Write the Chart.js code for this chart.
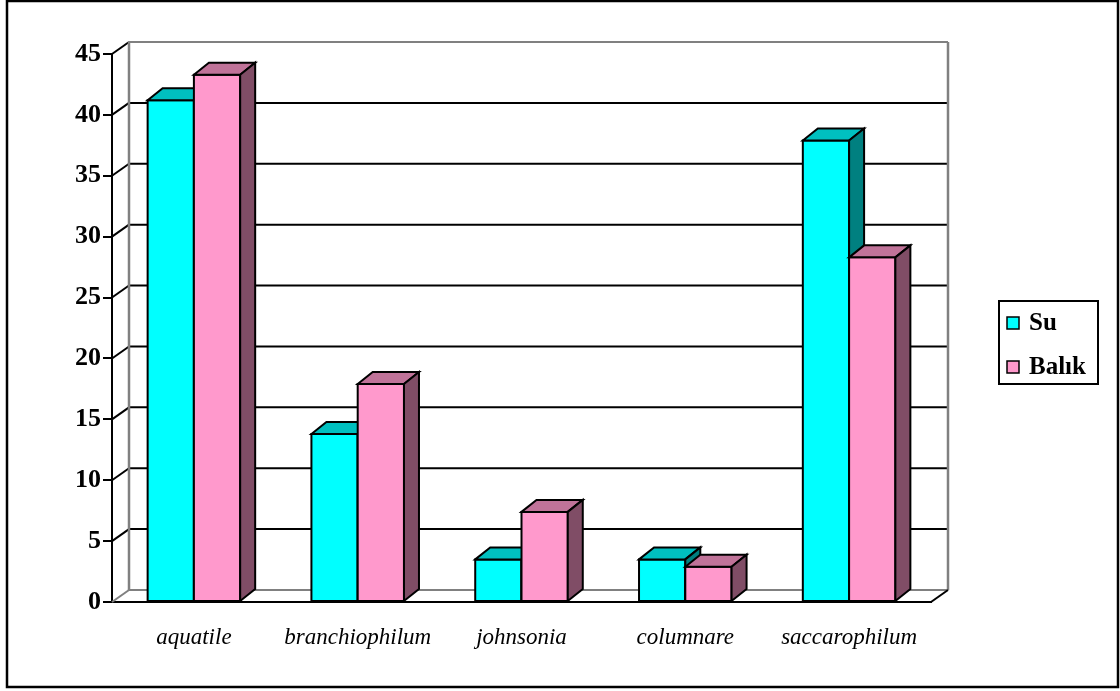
<!DOCTYPE html>
<html>
<head>
<meta charset="utf-8">
<script src="https://cdn.jsdelivr.net/npm/chart.js@4.4.1/dist/chart.umd.min.js"></script>
<style>
  html, body { margin: 0; padding: 0; background: #fff; }
  #wrap { width: 1120px; height: 691px; }
</style>
</head>
<body>
<div id="wrap"><canvas id="bakteriChart"></canvas></div>
<script>
const categories = ['aquatile', 'branchiophilum', 'johnsonia', 'columnare', 'saccarophilum'];
const seriesNames = ['Su', 'Balık'];
const suValues = [41.2, 13.8, 3.5, 3.5, 37.9];
const balikValues = [43.3, 17.9, 7.4, 2.9, 28.3];
const yMin = 0, yMax = 45, yStep = 5;

// depth of the back wall and of each bar (pixels, right / up)
const WALL_DX = 17, WALL_DY = -12;
const BAR_DX = 15, BAR_DY = -12;

const faces = [
    { front: '#00FFFF', top: '#00C0C0', side: '#008080' },
    { front: '#FF99CC', top: '#C07399', side: '#804D66' }
];

// walls, gridlines and the 3d boxes, drawn in back-to-front order
const box3d = {
    id: 'box3d',
    beforeDatasetsDraw(chart) {
        const { ctx, chartArea: a, scales: { y } } = chart;
        ctx.save();
        ctx.lineWidth = 2;
        ctx.lineCap = 'butt';

        y.ticks.forEach(t => {
            const py = y.getPixelForValue(t.value);
            // left wall diagonal
            ctx.strokeStyle = t.value === yMin ? '#808080' : '#000';
            ctx.beginPath();
            ctx.moveTo(a.left, py);
            ctx.lineTo(a.left + WALL_DX, py + WALL_DY);
            ctx.stroke();
            // back wall line
            ctx.strokeStyle = (t.value === yMin || t.value === yMax) ? '#808080' : '#000';
            ctx.beginPath();
            ctx.moveTo(a.left + WALL_DX, py + WALL_DY);
            ctx.lineTo(a.right + WALL_DX, py + WALL_DY);
            ctx.stroke();
        });

        // back wall verticals
        ctx.strokeStyle = '#808080';
        ctx.lineWidth = 2.5;
        [a.left + WALL_DX, a.right + WALL_DX].forEach(px => {
            ctx.beginPath();
            ctx.moveTo(px, a.top + WALL_DY);
            ctx.lineTo(px, a.bottom + WALL_DY);
            ctx.stroke();
        });

        // floor right edge
        ctx.strokeStyle = '#000';
        ctx.lineWidth = 2;
        ctx.beginPath();
        ctx.moveTo(a.right, a.bottom);
        ctx.lineTo(a.right + WALL_DX, a.bottom + WALL_DY);
        ctx.stroke();

        const metas = chart.data.datasets.map((ds, i) => chart.getDatasetMeta(i));
        ctx.lineJoin = 'miter';
        ctx.strokeStyle = '#000';
        ctx.lineWidth = 2;
        categories.forEach((c, i) => {
            metas.forEach((meta, d) => {
                const el = meta.data[i];
                const p = el.getProps(['x', 'y', 'base', 'width'], true);
                const l = p.x - p.width / 2, r = p.x + p.width / 2;
                const top = p.y, bot = p.base;
                const f = faces[d];

                ctx.fillStyle = f.front;
                ctx.beginPath();
                ctx.rect(l, top, r - l, bot - top);
                ctx.fill();
                ctx.stroke();

                ctx.fillStyle = f.top;
                ctx.beginPath();
                ctx.moveTo(l, top);
                ctx.lineTo(l + BAR_DX, top + BAR_DY);
                ctx.lineTo(r + BAR_DX, top + BAR_DY);
                ctx.lineTo(r, top);
                ctx.closePath();
                ctx.fill();
                ctx.stroke();

                ctx.fillStyle = f.side;
                ctx.beginPath();
                ctx.moveTo(r, top);
                ctx.lineTo(r + BAR_DX, top + BAR_DY);
                ctx.lineTo(r + BAR_DX, bot + BAR_DY);
                ctx.lineTo(r, bot);
                ctx.closePath();
                ctx.fill();
                ctx.stroke();
            });
        });
        ctx.restore();
        return false;
    }
};

// boxed legend on the right and the outer frame
const frameAndLegend = {
    id: 'frameAndLegend',
    afterDraw(chart) {
        const ctx = chart.ctx;
        ctx.save();
        ctx.strokeStyle = '#000';
        ctx.lineWidth = 2.5;
        ctx.strokeRect(7, 1, 1111, 686);

        ctx.lineWidth = 2;
        ctx.strokeRect(999, 301, 99, 83);

        ctx.font = 'bold 25px "Liberation Serif"';
        ctx.textBaseline = 'middle';
        ctx.textAlign = 'left';
        chart.data.datasets.forEach((ds, i) => {
            const cy = 323 + i * 44;
            ctx.fillStyle = ds.backgroundColor;
            ctx.fillRect(1007, cy - 6, 12, 12);
            ctx.lineWidth = 1.5;
            ctx.strokeRect(1007, cy - 6, 12, 12);
            ctx.fillStyle = '#000';
            ctx.fillText(ds.label, 1029, cy + 1);
        });
        ctx.restore();
    }
};

new Chart(document.getElementById('bakteriChart'), {
    type: 'bar',
    data: {
        labels: categories,
        datasets: [
            { label: seriesNames[0], data: suValues, backgroundColor: faces[0].front },
            { label: seriesNames[1], data: balikValues, backgroundColor: faces[1].front }
        ]
    },
    options: {
        responsive: true,
        maintainAspectRatio: false,
        animation: false,
        layout: { padding: { left: 0, top: 54, right: 189, bottom: 0 } },
        plugins: {
            legend: { display: false },
            tooltip: { enabled: false }
        },
        datasets: {
            bar: { categoryPercentage: 0.565, barPercentage: 1.0 }
        },
        scales: {
            x: {
                grid: { display: false },
                border: { display: true, color: '#000', width: 2 },
                ticks: {
                    color: '#000',
                    padding: 14,
                    maxRotation: 0,
                    font: { family: 'Liberation Serif', size: 23, style: 'italic' }
                },
                afterFit(scale) { scale.height = 89; }
            },
            y: {
                min: yMin,
                max: yMax,
                ticks: {
                    stepSize: yStep,
                    color: '#000',
                    padding: 2,
                    font: { family: 'Liberation Serif', size: 26, weight: 'bold' }
                },
                grid: { drawOnChartArea: false, drawTicks: true, tickLength: 9, color: '#000', lineWidth: 2 },
                border: { display: true, color: '#000', width: 2 },
                afterFit(scale) { scale.width = 112; }
            }
        }
    },
    plugins: [box3d, frameAndLegend]
});
</script>
</body>
</html>
